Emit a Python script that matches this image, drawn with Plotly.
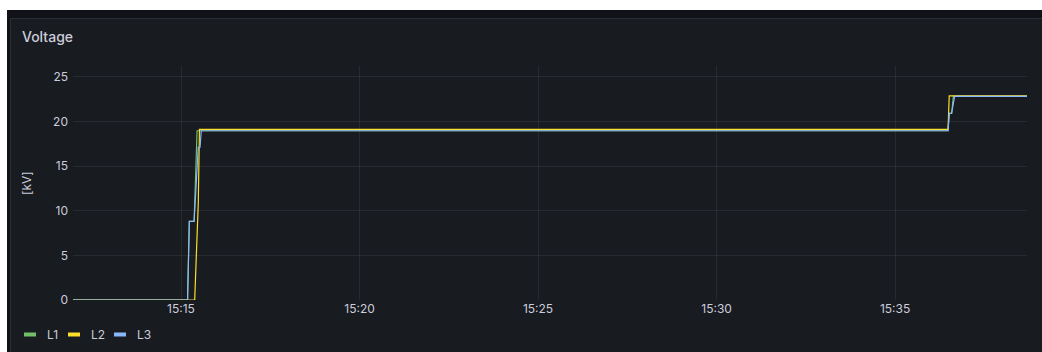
import plotly.graph_objects as go

# ---- data: three-phase voltage, kV ----
DAY = "2024-01-01 "

l1_times = ["15:11:58.5", "15:15:11", "15:15:14", "15:15:22", "15:15:27",
            "15:36:29", "15:36:31", "15:36:35", "15:36:38", "15:38:41.7"]
l1_values = [0, 0, 8.8, 8.8, 18.95, 18.95, 20.9, 20.9, 22.8, 22.8]

l2_times = ["15:11:58.5", "15:15:23", "15:15:29", "15:15:31",
            "15:36:29", "15:36:31", "15:38:41.7"]
l2_values = [0, 0, 10.8, 19.1, 19.1, 22.85, 22.85]

l3_times = ["15:11:58.5", "15:15:11", "15:15:14", "15:15:22", "15:15:29",
            "15:15:32", "15:15:34", "15:36:29", "15:36:31", "15:36:35",
            "15:36:40", "15:38:41.7"]
l3_values = [0, 0, 8.8, 8.8, 17.1, 17.1, 18.95, 18.95, 20.9, 20.9, 22.8, 22.8]

series_names = ["L1", "L2", "L3"]
series_colors = ["#73BF69", "#FADE2A", "#8AB8FF"]

x_range = ["15:11:58.5", "15:38:41.7"]
y_ticks = [0, 5, 10, 15, 20, 25]

# ---- page geometry ----
W, H = 1042, 352
ML, MR, MT, MB = 73, 15, 66, 52
PW, PH = W - ML - MR, H - MT - MB


def fx(px):
    return (px - ML) / PW


def fy(py):
    return 1 - (py - MT) / PH


TEXT = "#ccccdc"
FONT = "Inter, Roboto, sans-serif"

fig = go.Figure()
for name, color, times, values in zip(
        series_names, series_colors,
        [l1_times, l2_times, l3_times],
        [l1_values, l2_values, l3_values]):
    fig.add_trace(go.Scatter(
        x=[DAY + t for t in times], y=values, name=name, mode="lines",
        line=dict(color=color, width=1.2), showlegend=False,
        hoverinfo="skip"))

shapes = [
    # dashboard background
    dict(type="rect", xref="paper", yref="paper", layer="below",
         x0=fx(7), x1=fx(W + 5), y0=fy(H + 5), y1=fy(10),
         fillcolor="#111217", line=dict(width=0)),
    # panel
    dict(type="rect", xref="paper", yref="paper", layer="below",
         x0=fx(10.5), x1=fx(W + 5), y0=fy(H + 5), y1=fy(18.5),
         fillcolor="#181b1f", line=dict(color="#2b2e34", width=1)),
]

annotations = [
    dict(text="Voltage", xref="paper", yref="paper", x=fx(20), y=fy(36),
         xanchor="left", yanchor="middle", showarrow=False,
         font=dict(family=FONT, size=14, color=TEXT, weight=500)),
    dict(text="[kV]", xref="paper", yref="paper", x=fx(26), y=fy(183),
         xanchor="center", yanchor="middle", showarrow=False, textangle=-90,
         font=dict(family=FONT, size=12, color=TEXT)),
]

# legend row
swatch_x = [23, 67, 113]
label_x = [45, 89, 135]
for name, color, sx, lx in zip(series_names, series_colors, swatch_x, label_x):
    shapes.append(dict(type="line", xref="paper", yref="paper",
                       x0=fx(sx + 1), x1=fx(sx + 13), y0=fy(334.5), y1=fy(334.5),
                       line=dict(color=color, width=4)))
    annotations.append(dict(text=name, xref="paper", yref="paper",
                            x=fx(lx), y=fy(334.5), xanchor="left",
                            yanchor="middle", showarrow=False,
                            font=dict(family=FONT, size=12, color=TEXT)))

grid = "rgba(204,204,220,0.09)"
fig.update_layout(
    width=W, height=H,
    margin=dict(l=ML, r=MR, t=MT, b=MB),
    paper_bgcolor="#ffffff",
    plot_bgcolor="rgba(0,0,0,0)",
    font=dict(family=FONT, size=12, color=TEXT),
    shapes=shapes,
    annotations=annotations,
    xaxis=dict(type="date", range=[DAY + t for t in x_range],
               tick0=DAY + "15:15", dtick=300000, tickformat="%H:%M",
               showgrid=True, gridcolor=grid, gridwidth=1,
               zeroline=False, showline=False, ticks="",
               tickfont=dict(family=FONT, size=12, color=TEXT)),
    yaxis=dict(range=[0, 26.2], tickvals=y_ticks,
               showgrid=True, gridcolor=grid, gridwidth=1,
               zeroline=False, showline=False, ticks="",
               ticklabelstandoff=4,
               tickfont=dict(family=FONT, size=12, color=TEXT)),
)

fig.write_html("out.html")
